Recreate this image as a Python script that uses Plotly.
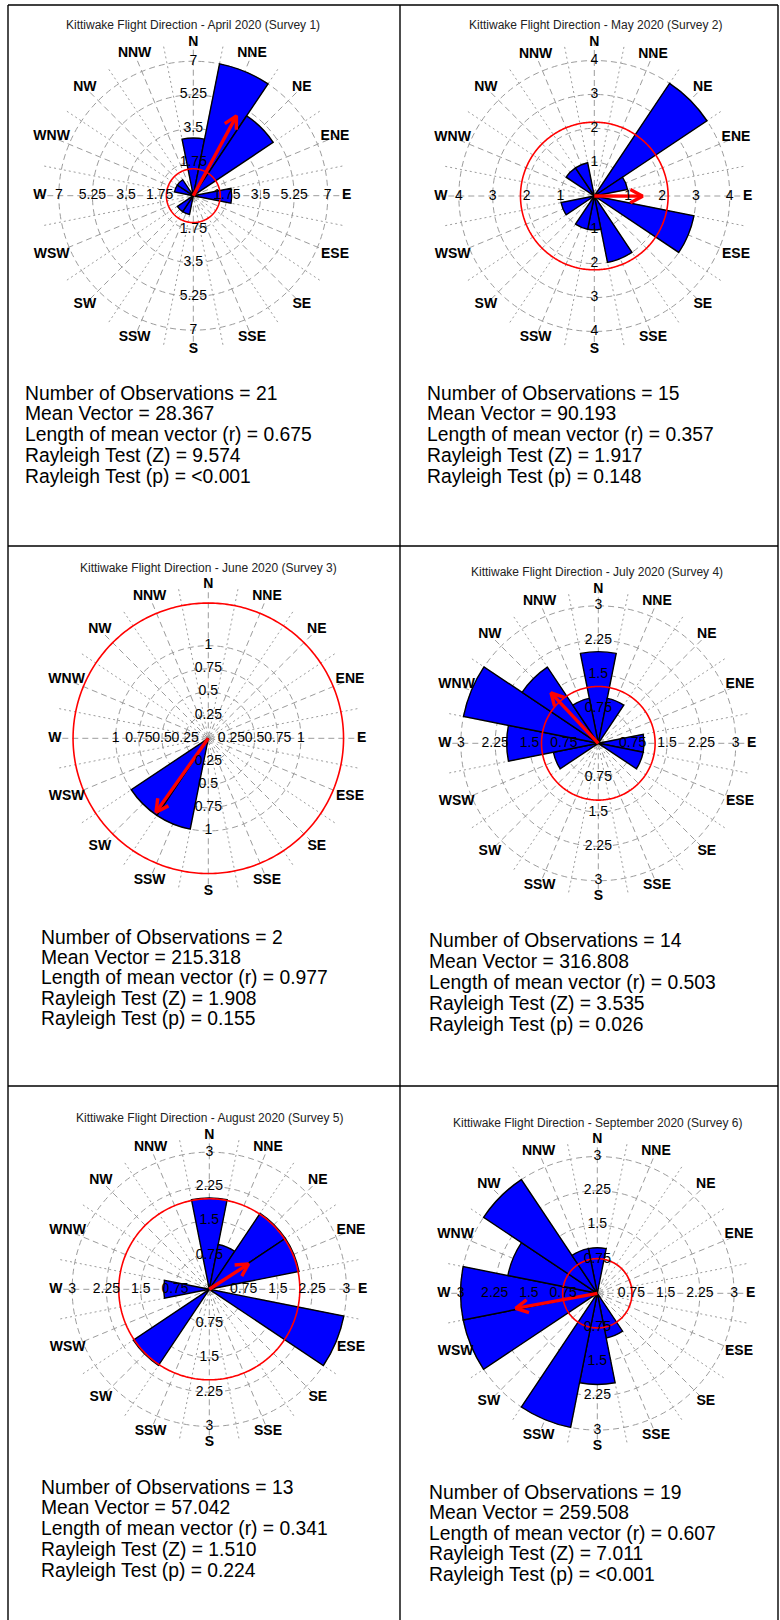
import numpy as np
import plotly.graph_objects as go

W, H = 780, 1620

# 16-point compass bins (centres, degrees clockwise from north)
compass = ["N", "NNE", "NE", "ENE", "E", "ESE", "SE", "SSE",
           "S", "SSW", "SW", "WSW", "W", "WNW", "NW", "NNW"]
bearing = [i * 22.5 for i in range(16)]

titles = [
    "Kittiwake Flight Direction - April 2020 (Survey 1)",
    "Kittiwake Flight Direction - May 2020 (Survey 2)",
    "Kittiwake Flight Direction - June 2020 (Survey 3)",
    "Kittiwake Flight Direction - July 2020 (Survey 4)",
    "Kittiwake Flight Direction - August 2020 (Survey 5)",
    "Kittiwake Flight Direction - September 2020 (Survey 6)",
]

# counts per compass bin, in the order of `compass`
counts_apr = [3, 7, 5, 0, 2, 0, 0, 0, 0, 1, 1, 0, 0, 1, 1, 0]
counts_may = [0, 0, 4, 1, 0, 3, 0, 2, 1, 1, 0, 1, 0, 0, 1, 1]
counts_jun = [0, 0, 0, 0, 0, 0, 0, 0, 0, 1, 1, 0, 0, 0, 0, 0]
counts_jul = [2, 1, 0, 0, 1, 1, 0, 0, 0, 0, 0, 1, 2, 3, 2, 1]
counts_aug = [2, 1, 2, 2, 0, 3, 0, 0, 0, 0, 2, 0, 1, 0, 0, 0]
counts_sep = [1, 0, 0, 0, 0, 0, 0, 1, 2, 3, 0, 3, 3, 2, 3, 1]

ticks_apr = [1.75, 3.5, 5.25, 7]
ticks_may = [1, 2, 3, 4]
ticks_jun = [0.25, 0.5, 0.75, 1]
ticks_jul = [0.75, 1.5, 2.25, 3]
ticks_aug = [0.75, 1.5, 2.25, 3]
ticks_sep = [0.75, 1.5, 2.25, 3]

n_obs = [21, 15, 2, 14, 13, 19]
mean_vec = [28.367, 90.193, 215.318, 316.808, 57.042, 259.508]
r_len = [0.675, 0.357, 0.977, 0.503, 0.341, 0.607]
z_stat = ["9.574", "1.917", "1.908", "3.535", "1.510", "7.011"]
p_val = ["<0.001", "0.148", "0.155", "0.026", "0.224", "<0.001"]
ref_circle = [1.40, 2.18, 1.46, 1.24, 1.98, 0.76]

counts = [counts_apr, counts_may, counts_jun, counts_jul, counts_aug, counts_sep]
ticks = [ticks_apr, ticks_may, ticks_jun, ticks_jul, ticks_aug, ticks_sep]

# page geometry (pixels): rose centre, pixel radius of the top tick,
# title anchor, stats block anchor (left x, first line y, line step)
R_OUT = 154
geom = [
    dict(c=(193.3, 195.7), tpx=135, title=(193, 25), txt=(23, 393, 20.8)),
    dict(c=(594.3, 196.0), tpx=136, title=(595, 25), txt=(425, 393, 20.8)),
    dict(c=(208.3, 738.3), tpx=93, title=(208, 568), txt=(39, 937, 20.4)),
    dict(c=(598.3, 743.3), tpx=138, title=(597, 572), txt=(427, 940, 21.0)),
    dict(c=(209.3, 1289.3), tpx=137.7, title=(209, 1118), txt=(39, 1487, 20.8)),
    dict(c=(597.3, 1293.3), tpx=137.3, title=(597, 1123), txt=(427, 1492, 20.6)),
]

GRID = "#9c9c9c"
DASH = "6px,4px"
DOT = "2px,3px"
FONT = "Liberation Sans, Arial, sans-serif"

fig = go.Figure()
layout_polars = {}
annotations = []


def px_x(x):
    return x / W


def px_y(y):
    return 1 - y / H


for k in range(6):
    g = geom[k]
    cx, cy = g["c"]
    tk = ticks[k]
    unit_px = g["tpx"] / tk[-1]
    outer = R_OUT / unit_px
    dom = dict(x=[px_x(cx - R_OUT), px_x(cx + R_OUT)],
               y=[px_y(cy + R_OUT), px_y(cy - R_OUT)])
    base = "polar" if k == 0 else f"polar{k + 1}"
    top = f"polar{k + 7}"

    ang_common = dict(rotation=90, direction="clockwise", tickmode="array",
                      tickvals=bearing, showticklabels=False, ticks="",
                      showline=False)
    rad_range = [0, outer * 1.004]

    # underlay: white disc with the dotted bin boundaries
    layout_polars[base] = dict(
        domain=dom, bgcolor="white",
        angularaxis=dict(**ang_common, showgrid=False),
        radialaxis=dict(range=rad_range, showgrid=False, showticklabels=False,
                        ticks="", showline=False),
    )
    # overlay: dashed rings and compass spokes, bars and annotations
    layout_polars[top] = dict(
        domain=dom, bgcolor="rgba(0,0,0,0)",
        angularaxis=dict(**ang_common, gridcolor=GRID, gridwidth=1,
                         griddash=DASH),
        radialaxis=dict(range=rad_range, tickmode="array",
                        tickvals=tk + [outer], showticklabels=False,
                        ticks="", showline=False, gridcolor=GRID,
                        gridwidth=1, griddash=DASH),
    )

    rr, tt = [], []
    for b in bearing:
        rr += [0, outer, None]
        tt += [b + 11.25, b + 11.25, None]
    fig.add_trace(go.Scatterpolar(r=rr, theta=tt, mode="lines", subplot=base,
                                  line=dict(color=GRID, width=1, dash=DOT),
                                  hoverinfo="skip", showlegend=False))

    # rose bars
    fig.add_trace(go.Barpolar(r=counts[k], theta=bearing, width=[22.5] * 16,
                              subplot=top, showlegend=False,
                              marker=dict(color="#0000FF",
                                          line=dict(color="black", width=1.4))))

    # reference circle
    th = np.linspace(0, 360, 361)
    fig.add_trace(go.Scatterpolar(r=[ref_circle[k]] * len(th), theta=th,
                                  mode="lines", subplot=top, showlegend=False,
                                  line=dict(color="#FF0000", width=1.6),
                                  hoverinfo="skip"))

    # mean vector arrow
    L = r_len[k] * tk[-1]
    a = np.radians(mean_vec[k])
    tip = np.array([L * np.sin(a), L * np.cos(a)])
    u = np.array([np.sin(a), np.cos(a)])
    h = 14 / unit_px
    pts = []
    for s in (1, -1):
        ang = np.radians(28) * s
        rot = np.array([u[0] * np.cos(ang) - u[1] * np.sin(ang),
                        u[0] * np.sin(ang) + u[1] * np.cos(ang)])
        pts.append(tip - h * rot)

    def to_pol(p):
        return (float(np.hypot(p[0], p[1])),
                float(np.degrees(np.arctan2(p[0], p[1])) % 360))

    ar = [0, L, None]
    at = [mean_vec[k], mean_vec[k], None]
    for p in (pts[0], tip, pts[1]):
        r_, t_ = to_pol(p)
        ar.append(r_)
        at.append(t_)
    fig.add_trace(go.Scatterpolar(r=ar, theta=at, mode="lines", subplot=top,
                                  showlegend=False, hoverinfo="skip",
                                  line=dict(color="#FF0000", width=3.4)))

    # radial tick labels along the four cardinal axes
    lr, lt, ltx = [], [], []
    for ang in (0, 90, 180, 270):
        for v in tk:
            lr.append(v)
            lt.append(ang)
            ltx.append(f"{v:g}")
    fig.add_trace(go.Scatterpolar(r=lr, theta=lt, text=ltx, mode="text",
                                  subplot=top, showlegend=False,
                                  cliponaxis=False, hoverinfo="skip",
                                  textfont=dict(family=FONT, size=14,
                                                color="black")))

    # compass point labels
    fig.add_trace(go.Scatterpolar(r=[outer] * 16, theta=bearing,
                                  text=[f"<b>{c}</b>" for c in compass],
                                  mode="text", subplot=top, showlegend=False,
                                  cliponaxis=False, hoverinfo="skip",
                                  textfont=dict(family=FONT, size=14,
                                                color="black")))

    # title
    tx, ty = g["title"]
    annotations.append(dict(x=px_x(tx), y=px_y(ty), xref="paper", yref="paper",
                            text=titles[k], showarrow=False, xanchor="center",
                            yanchor="middle",
                            font=dict(family=FONT, size=12, color="#222222")))

    # statistics block
    lx, ly, step = g["txt"]
    lines = [
        f"Number of Observations = {n_obs[k]}",
        f"Mean Vector = {mean_vec[k]:.3f}",
        f"Length of mean vector (r) = {r_len[k]:.3f}",
        f"Rayleigh Test (Z) = {z_stat[k]}",
        f"Rayleigh Test (p) = {p_val[k]}",
    ]
    for i, s in enumerate(lines):
        annotations.append(dict(x=px_x(lx), y=px_y(ly + i * step), xref="paper",
                                yref="paper", text=s, showarrow=False,
                                xanchor="left", yanchor="middle",
                                font=dict(family=FONT, size=19.3, color="black")))

# table rules
shapes = []
for (x0, y0, x1, y1) in [(8, 5, 778, 5), (8, 5, 8, 1620), (400, 5, 400, 1620),
                         (778, 5, 778, 1620), (8, 546, 778, 546),
                         (8, 1086, 778, 1086)]:
    shapes.append(dict(type="line", xref="paper", yref="paper",
                       x0=px_x(x0), y0=px_y(y0), x1=px_x(x1), y1=px_y(y1),
                       line=dict(color="black", width=1.4)))

fig.update_layout(width=W, height=H, margin=dict(l=0, r=0, t=0, b=0),
                  paper_bgcolor="white", plot_bgcolor="white",
                  annotations=annotations, shapes=shapes, **layout_polars)

fig.write_html("out.html")
